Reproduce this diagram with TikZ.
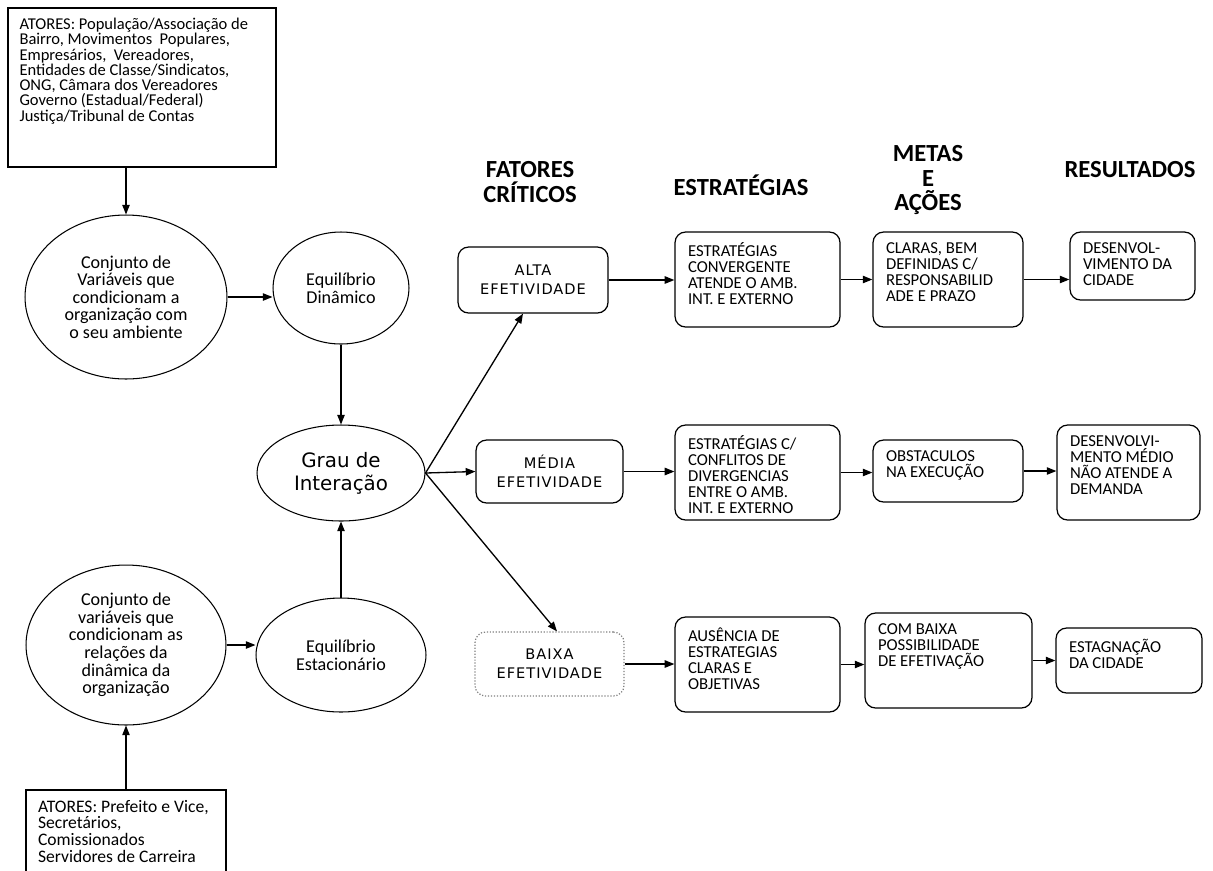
\documentclass[tikz,border=0pt]{standalone}
\usepackage{fontspec}
\setmainfont{Carlito}
\newfontfamily\dejavu{DejaVu Sans}
\newfontfamily\dejavuesp[LetterSpace=7]{DejaVu Sans}
\usepackage{tikz}
\usetikzlibrary{arrows.meta,shapes.geometric,positioning}

\newcommand{\caixatxt}[3]{\parbox[c][#2][t]{#1}{\raggedright #3}}

\begin{document}
\begin{tikzpicture}[x=0.02cm,y=-0.02cm,
    seta/.style={-{Triangle[length=5.5pt,width=4.2pt]}, line width=0.75pt},
    elipse/.style={draw, ellipse, line width=0.6pt, inner sep=0pt, align=center, font=\fontsize{10.3}{10}\selectfont},
    quadro/.style={draw, line width=0.7pt, inner xsep=0.28cm, inner ysep=0.2cm},
    caixa/.style={draw, rounded corners=6pt, line width=0.7pt, inner xsep=0.26cm, inner ysep=0.22cm, font=\fontsize{9.5}{9.1}\selectfont},
    fator/.style={draw, rounded corners=6pt, line width=0.7pt, align=center, font=\dejavuesp\fontsize{8.3}{11}\selectfont},
    titulo/.style={align=center, font=\bfseries\fontsize{14}{14}\selectfont}]

    \useasboundingbox (0,0) rectangle (1213,870);

    % atores e ambiente
    \node[quadro, inner xsep=0.23cm, font=\fontsize{9.4}{8.7}\selectfont] (atext) at (142,87.5) {\caixatxt{4.9cm}{2.78cm}{ATORES: População/Associação de\\ Bairro, Movimentos~ Populares,\\ Empresários,~ Vereadores,\\ Entidades de Classe/Sindicatos,\\ ONG, Câmara dos Vereadores\\ Governo (Estadual/Federal)\\ Justiça/Tribunal de Contas}};
    \node[elipse, minimum width=4.04cm, minimum height=3.28cm] (conj1) at (126,297) {Conjunto de\\ Variáveis que\\ condicionam a\\ organização com\\ o seu ambiente};
    \node[elipse, minimum width=2.72cm, minimum height=2.24cm] (eqdin) at (341,288) {Equilíbrio\\ Dinâmico};
    \node[elipse, minimum width=3.36cm, minimum height=1.92cm, font=\dejavu\fontsize{11.3}{13}\selectfont] (grau) at (341,473) {Grau de\\ Interação};
    \node[elipse, minimum width=4cm, minimum height=3.2cm] (conj2) at (126,645) {Conjunto de\\ variáveis que\\ condicionam as\\ relações da\\ dinâmica da\\ organização};
    \node[elipse, minimum width=3.4cm, minimum height=2.28cm] (eqest) at (341,655) {Equilíbrio\\ Estacionário};
    \node[quadro, inner xsep=0.24cm, font=\fontsize{10}{9.5}\selectfont] (atint) at (126,840) {\caixatxt{3.52cm}{1.6cm}{ATORES: Prefeito e Vice,\\ Secretários,\\ Comissionados\\ Servidores de Carreira}};

    % titulos
    \node[titulo] (hfat) at (530,182) {FATORES\\CRÍTICOS};
    \node[titulo] (hest) at (741,185) {ESTRATÉGIAS};
    \node[titulo] (hmet) at (928,180) {METAS\\E\\AÇÕES};
    \node[titulo] (hres) at (1130,170) {RESULTADOS};

    % fatores criticos
    \node[fator, minimum width=3cm, minimum height=1.32cm] (alta) at (533,280) {ALTA\\EFETIVIDADE};
    \node[fator, minimum width=2.94cm, minimum height=1.26cm] (media) at (549.5,471.5) {MÉDIA\\EFETIVIDADE};
    \node[fator, draw=gray, densely dotted, minimum width=2.98cm, minimum height=1.28cm] (baixa) at (549.5,664) {BAIXA\\EFETIVIDADE};

    % linha alta
    \node[caixa] (estr1) at (757.5,279.5) {\caixatxt{2.78cm}{1.46cm}{ESTRATÉGIAS\\ CONVERGENTE\\ ATENDE O AMB.\\ INT. E EXTERNO}};
    \node[caixa] (metas1) at (948,279.5) {\caixatxt{2.48cm}{1.46cm}{CLARAS, BEM\\ DEFINIDAS C/\\ RESPONSABILID\\ ADE E PRAZO}};
    \node[caixa] (res1) at (1132.5,266) {\caixatxt{1.98cm}{0.92cm}{DESENVOL-\\ VIMENTO DA\\ CIDADE}};

    % linha media
    \node[caixa] (estr2) at (757.5,472.5) {\caixatxt{2.78cm}{1.46cm}{ESTRATÉGIAS C/\\ CONFLITOS DE\\ DIVERGENCIAS\\ ENTRE O AMB.\\ INT. E EXTERNO}};
    \node[caixa] (metas2) at (948,471) {\caixatxt{2.48cm}{0.8cm}{OBSTACULOS\\ NA EXECUÇÃO}};
    \node[caixa] (res2) at (1128.5,472.5) {\caixatxt{2.34cm}{1.46cm}{DESENVOLVI-\\ MENTO MÉDIO\\ NÃO ATENDE A\\ DEMANDA}};

    % linha baixa
    \node[caixa] (estr3) at (757.5,664.5) {\caixatxt{2.78cm}{1.46cm}{AUSÊNCIA DE\\ ESTRATEGIAS\\ CLARAS E\\ OBJETIVAS}};
    \node[caixa] (metas3) at (948.5,660.5) {\caixatxt{2.82cm}{1.46cm}{COM BAIXA\\ POSSIBILIDADE\\ DE EFETIVAÇÃO}};
    \node[caixa] (res3) at (1129,660.5) {\caixatxt{2.4cm}{0.86cm}{ESTAGNAÇÃO\\ DA CIDADE}};

    % conexoes
    \draw[seta] (conj1.north |- atext.south) -- (conj1.north);
    \draw[seta] (conj1.east) -- (conj1.east -| eqdin.west);
    \draw[seta] (eqdin.south) -- (grau.north);
    \draw[seta] (eqest.north) -- (grau.south);
    \draw[seta] (atint.north) -- (conj2.south);
    \draw[seta] (conj2.east) -- (conj2.east -| eqest.west);
    \draw[seta] (grau.east) -- ([xshift=-0.2cm]alta.south);
    \draw[seta] (grau.east) -- (media.west);
    \draw[seta] (grau.east) -- ([xshift=0.15cm]baixa.north);

    \draw[seta] (alta.east) -- (alta.east -| estr1.west);
    \draw[seta] (estr1.east) -- (metas1.west);
    \draw[seta] (metas1.east) -- (metas1.east -| res1.west);
    \draw[seta] (media.east) -- (media.east -| estr2.west);
    \draw[seta] (estr2.east) -- (estr2.east -| metas2.west);
    \draw[seta] (metas2.east) -- (metas2.east -| res2.west);
    \draw[seta] (baixa.east) -- (baixa.east -| estr3.west);
    \draw[seta] (estr3.east) -- (estr3.east -| metas3.west);
    \draw[seta] (metas3.east) -- (metas3.east -| res3.west);
\end{tikzpicture}
\end{document}
